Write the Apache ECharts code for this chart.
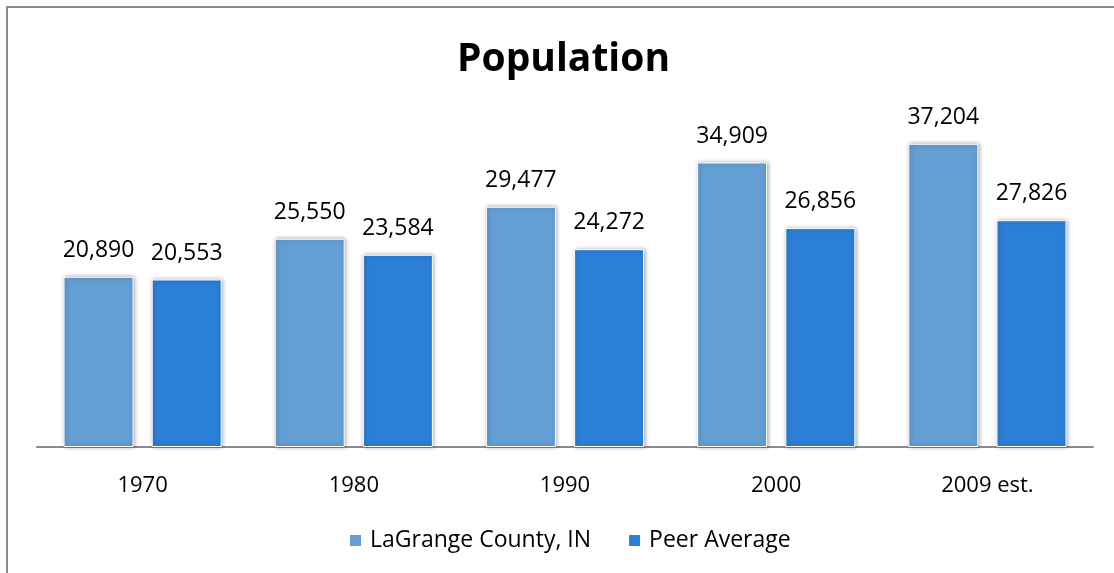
<!DOCTYPE html>
<html>
<head>
<meta charset="utf-8">
<script src="https://cdn.jsdelivr.net/npm/echarts@6/dist/echarts.min.js"></script>
<style>
  html, body { margin: 0; padding: 0; background: #fff; }
  #frame { position: absolute; left: 6px; top: 6px; right: 0; bottom: 0;
    border-top: 2px solid #8a8a8a; border-left: 2px solid #8a8a8a; }
  #chart { position: absolute; left: 0; top: 0; width: 1114px; height: 573px; }
</style>
</head>
<body>
<div id="frame"></div>
<div id="chart"></div>
<script>
const years = ['1970', '1980', '1990', '2000', '2009 est.'];
const lagrange = [20890, 25550, 29477, 34909, 37204];
const peerAverage = [20553, 23584, 24272, 26856, 27826];

const font = '"Open Sans", sans-serif';
const fmt = v => v.toLocaleString('en-US');

const chart = echarts.init(document.getElementById('chart'));

const barStyle = color => ({
  color: color,
  borderColor: '#ffffff',
  borderWidth: 1,
  shadowColor: 'rgba(0,0,0,0.35)',
  shadowBlur: 4,
  shadowOffsetX: 1,
  shadowOffsetY: 0
});

const labelStyle = {
  show: true,
  position: 'top',
  distance: 15,
  formatter: p => fmt(p.value),
  fontFamily: font,
  fontSize: 23,
  color: '#000'
};

chart.setOption({
  animation: false,
  title: {
    text: 'Population',
    left: 452,
    top: 35,
    textStyle: { fontFamily: font, fontWeight: 'bold', fontSize: 39, color: '#000' }
  },
  legend: {
    bottom: 16,
    left: 343,
    itemWidth: 13,
    itemHeight: 13,
    itemGap: 36,
    icon: 'rect',
    textStyle: { fontFamily: font, fontSize: 23, color: '#000', padding: [0, 0, 0, 3] },
    data: ['LaGrange County, IN', 'Peer Average']
  },
  grid: { left: 37, right: 21, top: 121, bottom: 126 },
  xAxis: {
    type: 'category',
    data: years,
    axisLine: { lineStyle: { color: '#8c8c8c', width: 2 } },
    axisTick: { show: false },
    axisLabel: { fontFamily: font, fontSize: 22, color: '#000', margin: 28 }
  },
  yAxis: {
    type: 'value',
    min: 0,
    max: 40000,
    show: false,
    splitLine: { show: false }
  },
  series: [
    {
      name: 'LaGrange County, IN',
      type: 'bar',
      data: lagrange,
      barWidth: 70,
      barGap: '26%',
      itemStyle: barStyle('#639fd2'),
      label: labelStyle
    },
    {
      name: 'Peer Average',
      type: 'bar',
      data: peerAverage,
      barWidth: 70,
      itemStyle: barStyle('#2b7fd7'),
      label: labelStyle
    }
  ]
});
</script>
</body>
</html>
